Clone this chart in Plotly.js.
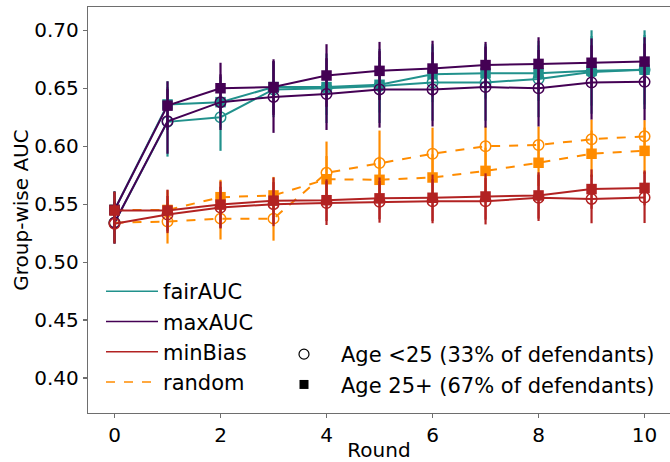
<!DOCTYPE html>
<html>
<head>
<meta charset="utf-8">
<script src="https://cdn.plot.ly/plotly-3.0.1.min.js"></script>
<style>html,body{margin:0;padding:0;background:#fff;}#chart{width:670px;height:462px;}</style>
</head>
<body>
<div id="chart"></div>
<script>
// ---- data ----
const rounds = [0, 1, 2, 3, 4, 5, 6, 7, 8, 9, 10];
const methods = ["fairAUC", "maxAUC", "minBias", "random"];
const groupLabels = ["Age <25 (33% of defendants)", "Age 25+ (67% of defendants)"];

const fairAUC_young  = [0.534, 0.621, 0.625, 0.649, 0.650, 0.652, 0.655, 0.655, 0.658, 0.664, 0.666];
const fairAUC_old    = [0.545, 0.636, 0.638, 0.651, 0.651, 0.653, 0.662, 0.663, 0.663, 0.665, 0.666];
const maxAUC_young   = [0.534, 0.6215, 0.638, 0.6425, 0.645, 0.649, 0.649, 0.651, 0.650, 0.655, 0.6555];
const maxAUC_old     = [0.545, 0.635, 0.650, 0.651, 0.661, 0.665, 0.667, 0.670, 0.671, 0.672, 0.673];
const minBias_young  = [0.533, 0.541, 0.547, 0.550, 0.551, 0.552, 0.5525, 0.5525, 0.5555, 0.5545, 0.5557];
const minBias_old    = [0.5445, 0.5445, 0.5496, 0.553, 0.5534, 0.555, 0.5555, 0.5566, 0.5575, 0.563, 0.564];
const random_young   = [0.534, 0.535, 0.5375, 0.5375, 0.577, 0.5855, 0.5935, 0.600, 0.601, 0.606, 0.6085];
const random_old     = [0.545, 0.545, 0.556, 0.5575, 0.5715, 0.571, 0.573, 0.5787, 0.5857, 0.5935, 0.596];

const fairAUC_young_err = [0.018, 0.030, 0.029, 0.024, 0.030, 0.032, 0.033, 0.033, 0.033, 0.036, 0.034];
const fairAUC_old_err   = [0.016, 0.020, 0.022, 0.022, 0.024, 0.024, 0.024, 0.022, 0.024, 0.030, 0.030];
const maxAUC_young_err  = [0.018, 0.028, 0.024, 0.031, 0.031, 0.033, 0.032, 0.035, 0.033, 0.032, 0.033];
const maxAUC_old_err    = [0.016, 0.021, 0.022, 0.024, 0.027, 0.025, 0.024, 0.020, 0.023, 0.021, 0.021];
const minBias_young_err = [0.017, 0.016, 0.018, 0.019, 0.019, 0.018, 0.019, 0.020, 0.020, 0.021, 0.022];
const minBias_old_err   = [0.016, 0.018, 0.020, 0.020, 0.018, 0.018, 0.020, 0.020, 0.020, 0.017, 0.015];
const random_young_err  = [0.017, 0.019, 0.018, 0.019, 0.027, 0.028, 0.0225, 0.017, 0.016, 0.017, 0.014];
const random_old_err    = [0.016, 0.017, 0.015, 0.016, 0.020, 0.020, 0.020, 0.020, 0.020, 0.020, 0.020];

// ---- styles ----
const colors = {fairAUC: "#21918c", maxAUC: "#440154", minBias: "#b22222", random: "#ff8c00"};
const dashes = {fairAUC: "solid", maxAUC: "solid", minBias: "solid", random: "dash"};
const FONT = "DejaVu Sans, sans-serif";
const FS = 20;
const LFS = 21;

function series(name, young, youngErr, old, oldErr) {
  const c = colors[name], d = dashes[name];
  const base = {x: rounds, mode: "lines+markers", showlegend: false, hoverinfo: "skip"};
  return [
    Object.assign({}, base, {
      y: young, name: name + " " + groupLabels[0],
      line: {color: c, width: 2, dash: d},
      marker: {symbol: "circle-open", size: 10.5, color: c, line: {width: 1.5, color: c}},
      error_y: {type: "data", array: youngErr, visible: true, color: c, thickness: 2.2, width: 0}
    }),
    Object.assign({}, base, {
      y: old, name: name + " " + groupLabels[1],
      line: {color: c, width: 2, dash: d},
      marker: {symbol: "square", size: 10.5, color: c},
      error_y: {type: "data", array: oldErr, visible: true, color: c, thickness: 2.2, width: 0}
    })
  ];
}

const data = [].concat(
  series("random", random_young, random_young_err, random_old, random_old_err),
  series("fairAUC", fairAUC_young, fairAUC_young_err, fairAUC_old, fairAUC_old_err),
  series("maxAUC", maxAUC_young, maxAUC_young_err, maxAUC_old, maxAUC_old_err),
  series("minBias", minBias_young, minBias_young_err, minBias_old, minBias_old_err)
);

// legend entries (no data)
methods.forEach(m => {
  data.push({x: [null], y: [null], mode: "lines", name: m, legend: "legend", legendgroup: m,
    line: {color: colors[m], width: 1.5, dash: dashes[m]}, showlegend: true});
});
data.push({x: [null], y: [null], mode: "markers", name: groupLabels[0], legend: "legend2", legendgroup: "g0",
  marker: {symbol: "circle-open", size: 10, color: "#000", line: {width: 1.2, color: "#000"}}});
data.push({x: [null], y: [null], mode: "markers", name: groupLabels[1], legend: "legend2", legendgroup: "g1",
  marker: {symbol: "square", size: 9, color: "#000"}});

const axisCommon = {
  showgrid: false, zeroline: false, showline: true, linecolor: "#6e6e6e", linewidth: 1.2,
  ticks: "outside", ticklen: 4, tickwidth: 1.2, tickcolor: "#6e6e6e",
  tickfont: {family: FONT, size: FS, color: "#000"}
};

const layout = {
  width: 670, height: 462,
  margin: {l: 88, r: 0, t: 7, b: 49},
  paper_bgcolor: "#fff", plot_bgcolor: "#fff",
  font: {family: FONT, size: FS, color: "#000"},
  xaxis: Object.assign({}, axisCommon, {
    range: [-0.5, 10.48], tickvals: [0, 2, 4, 6, 8, 10], mirror: true,
    title: {text: "Round", font: {family: FONT, size: FS, color: "#000"}, standoff: 4}
  }),
  yaxis: Object.assign({}, axisCommon, {
    range: [0.3698, 0.7201], tickvals: [0.40, 0.45, 0.50, 0.55, 0.60, 0.65, 0.70], tickformat: ".2f",
    title: {text: "Group-wise AUC", font: {family: FONT, size: FS, color: "#000"}, standoff: 0}
  }),
  legend: {
    x: (101 - 88) / 582, y: (413 - 271) / 406, xanchor: "left", yanchor: "top",
    bgcolor: "rgba(0,0,0,0)", borderwidth: 0, font: {family: FONT, size: LFS, color: "#000"},
    tracegroupgap: 0, itemwidth: 52, traceorder: "grouped"
  },
  legend2: {
    x: (267 - 88) / 582, y: (413 - 334) / 406, xanchor: "left", yanchor: "top",
    bgcolor: "rgba(0,0,0,0)", borderwidth: 0, font: {family: FONT, size: LFS, color: "#000"},
    tracegroupgap: 0, itemwidth: 64, traceorder: "grouped"
  }
};

Plotly.newPlot("chart", data, layout, {staticPlot: true, displayModeBar: false});
</script>
</body>
</html>
